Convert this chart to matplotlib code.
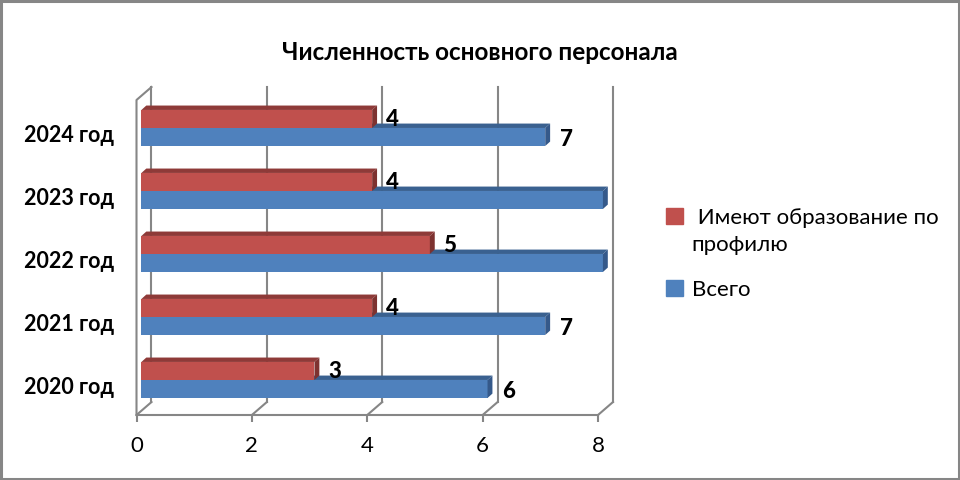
""" Staff numbers chart, fake 3D horizontal bars """

import matplotlib
matplotlib.use("Agg")
import matplotlib.pyplot as plt
from matplotlib.patches import Polygon, Rectangle

title = "Численность основного персонала"
years = ["2020 год", "2021 год", "2022 год", "2023 год", "2024 год"]
total = [6, 7, 8, 8, 7]
profile = [3, 4, 5, 4, 4]
x_ticks = [0, 2, 4, 6, 8]
total_label = "Всего"
profile_label = " Имеют образование по\nпрофилю"

RED = ("#C0504D", "#8E3A38", "#7D3230")
BLUE = ("#4F81BD", "#3A6190", "#35598A")
GRID = "#868686"

BAR_H = 0.286
BAR_START = 0.085
BAR_DX = 0.085
BAR_DY = 0.07
WALL_DX = 0.26
WALL_DY = 0.206


def main():
    plt.rcParams["font.family"] = ["Lato", "Noto Sans", "DejaVu Sans"]
    fig = plt.figure(figsize=(9.6, 4.8), dpi=100)
    ax = fig.add_axes([136.5 / 960, 65 / 480, 461.5 / 960, 315 / 480])
    ax.set_xlim(0, 8)
    ax.set_ylim(-0.556, 4.444)
    draw_walls(ax)
    draw_bars(ax)
    draw_text(fig, ax)
    fig.add_artist(Rectangle((1 / 960, 1.5 / 480), 957.5 / 960, 477.5 / 480,
                             transform=fig.transFigure,
                             fill=False, edgecolor=GRID, linewidth=2.2))
    fig.savefig("out.png", dpi=100)


def draw_walls(ax):
    """ back grid, floor diagonals and left wall """
    y0, y1 = ax.get_ylim()
    for t in x_ticks:
        ax.plot([t + WALL_DX, t + WALL_DX], [y0 + WALL_DY, y1 + WALL_DY],
                color=GRID, lw=1.5, clip_on=False, zorder=1)
        ax.plot([t, t + WALL_DX], [y0, y0 + WALL_DY],
                color=GRID, lw=1.5, clip_on=False, zorder=1)
    ax.plot([0, 0, WALL_DX], [y0, y1, y1 + WALL_DY],
            color=GRID, lw=1.5, clip_on=False, zorder=1)


def draw_bar(ax, value, y, colors, z):
    """ one bar: front by barh, top and side as polygons """
    front, top, side = colors
    left = BAR_START
    right = BAR_START + value
    ax.barh(y, value, height=BAR_H, left=left, color=front, clip_on=False, zorder=z)
    y_low = y - BAR_H / 2
    y_high = y + BAR_H / 2
    ax.add_patch(Polygon([(left, y_high), (right, y_high),
                          (right + BAR_DX, y_high + BAR_DY), (left + BAR_DX, y_high + BAR_DY)],
                         facecolor=top, edgecolor="none", clip_on=False, zorder=z))
    ax.add_patch(Polygon([(right, y_low), (right, y_high),
                          (right + BAR_DX, y_high + BAR_DY), (right + BAR_DX, y_low + BAR_DY)],
                         facecolor=side, edgecolor="none", clip_on=False, zorder=z))


def draw_bars(ax):
    """ blue goes first so red hides its top """
    for i, year in enumerate(years):
        draw_bar(ax, total[i], i - BAR_H / 2, BLUE, 2)
        draw_bar(ax, profile[i], i + BAR_H / 2, RED, 3)
        ax.annotate(str(total[i]), (total[i] + BAR_START, i - BAR_H / 2), xytext=(15, -1.5),
                    textcoords="offset points", ha="center", va="center",
                    fontsize=16, fontweight="black", zorder=5)
        ax.annotate(str(profile[i]), (profile[i] + BAR_START, i + BAR_H / 2), xytext=(14.5, -0.5),
                    textcoords="offset points", ha="center", va="center",
                    fontsize=16, fontweight="black", zorder=5)


def draw_text(fig, ax):
    """ title, axis labels, legend """
    for name in ["top", "right", "left"]:
        ax.spines[name].set_visible(False)
    ax.spines["bottom"].set_color(GRID)
    ax.spines["bottom"].set_linewidth(1.5)
    ax.set_xticks(x_ticks)
    ax.tick_params(axis="x", length=5, width=1.5, color=GRID, pad=10, labelsize=16)
    ax.set_yticks([i - 0.08 for i in range(len(years))])
    ax.set_yticklabels(years, fontsize=15.5, fontweight="bold")
    ax.tick_params(axis="y", length=0, pad=16)
    fig.text(480 / 960, 1 - 52 / 480, title, ha="center", va="center",
             fontsize=17.5, fontweight="bold")
    handles = [Rectangle((0, 0), 1, 1, color=RED[0]), Rectangle((0, 0), 1, 1, color=BLUE[0])]
    leg = fig.legend(handles, [profile_label, total_label], loc="center left",
                     bbox_to_anchor=(646 / 960, 1 - 254 / 480), frameon=False, fontsize=16,
                     handlelength=0.75, handleheight=0.75, handletextpad=0.4, labelspacing=1.1)
    for t in leg.get_texts():
        t.set_linespacing(1.45)
    # lift the red marker up to the first line of its label
    red_handle = leg.legend_handles[0]
    red_handle.set_y(red_handle.get_y() + 11.5)


if __name__ == "__main__":
    main()
